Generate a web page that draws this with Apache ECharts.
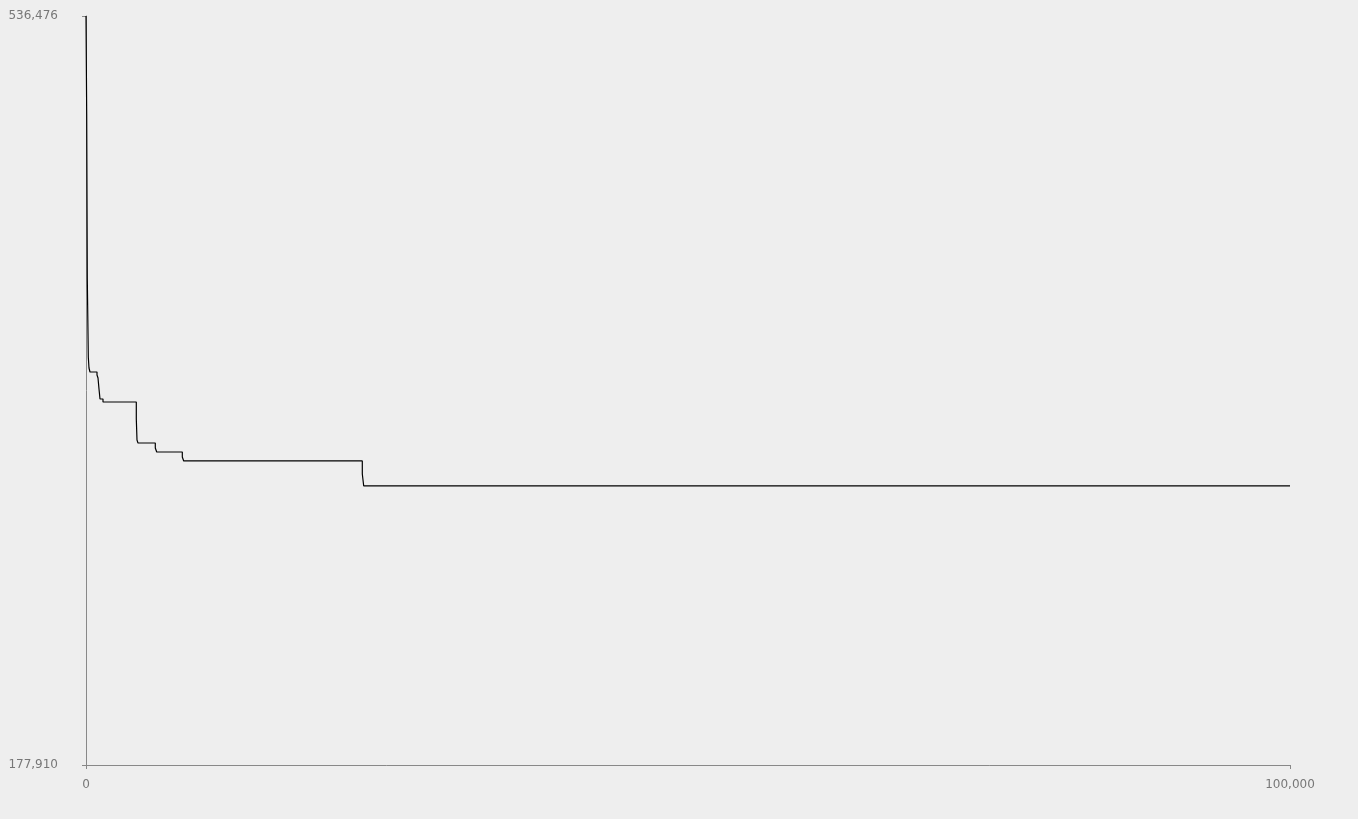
<!DOCTYPE html>
<html>
<head>
<meta charset="utf-8">
<script src="https://cdn.jsdelivr.net/npm/echarts@6/dist/echarts.min.js"></script>
<style>html,body{margin:0;padding:0;background:#eeeeee}#main{width:1358px;height:819px}</style>
</head>
<body>
<div id="main"></div>
<script>
// iteration at which the best value changes, and the new best value
var iterations = [0, 58, 108, 191, 249, 332, 914, 997, 1080, 1163, 1412, 4178, 4236, 4319, 5756, 5873, 7999, 8115, 22949, 23066, 100000];
var bestValues = [536476, 489563, 410578, 373239, 367974, 366059, 364623, 363187, 357921, 353134, 351698, 343560, 333507, 332071, 329678, 327763, 325370, 323455, 317232, 311488, 311488];
var yMin = 177910, yMax = 536476;
var xMin = 0, xMax = 100000;

var points = iterations.map(function (x, i) { return [x, bestValues[i]]; });
var axisColor = '#888888';
var chart = echarts.init(document.getElementById('main'));
chart.setOption({
  backgroundColor: '#eeeeee',
  animation: false,
  grid: { left: 86, right: 68, top: 16, bottom: 54 },
  xAxis: {
    type: 'value', min: xMin, max: xMax, interval: 100000,
    axisLine: { lineStyle: { color: axisColor } },
    axisTick: { lineStyle: { color: axisColor }, length: 4 },
    axisLabel: { color: '#777', fontSize: 12, margin: 14, fontFamily: 'DejaVu Sans' },
    splitLine: { show: false }
  },
  yAxis: {
    type: 'value', min: yMin, max: yMax, interval: yMax - yMin,
    axisLine: { show: true, lineStyle: { color: axisColor } },
    axisTick: { show: true, lineStyle: { color: axisColor }, length: 4 },
    axisLabel: { color: '#777', fontSize: 12, margin: 28, fontFamily: 'DejaVu Sans' },
    splitLine: { show: false }
  },
  series: [{
    type: 'line', step: 'end', data: points, showSymbol: false,
    lineStyle: { color: '#000', width: 1.2 }
  }]
});
</script>
</body>
</html>
